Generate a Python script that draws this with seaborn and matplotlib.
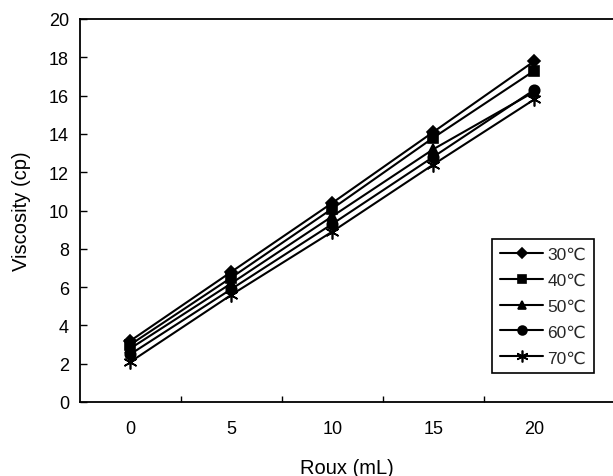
import matplotlib
matplotlib.use("Agg")
import matplotlib.pyplot as plt
import seaborn as sns
import pandas as pd

# Viscosity of roux suspensions at several temperatures
roux_ml = ["0", "5", "10", "15", "20"]
temps = ["30℃", "40℃", "50℃", "60℃", "70℃"]
visc_30 = [3.2, 6.8, 10.4, 14.1, 17.8]
visc_40 = [3.0, 6.5, 10.1, 13.8, 17.3]
visc_50 = [2.8, 6.2, 9.7, 13.2, 16.2]
visc_60 = [2.5, 5.9, 9.3, 12.8, 16.3]
visc_70 = [2.1, 5.6, 8.9, 12.4, 15.8]
y_ticks = [0, 2, 4, 6, 8, 10, 12, 14, 16, 18, 20]

series = [visc_30, visc_40, visc_50, visc_60, visc_70]
rows = []
for t, vals in zip(temps, series):
    for r, v in zip(roux_ml, vals):
        rows.append({"Roux": r, "Viscosity": v, "Temp": t})
df = pd.DataFrame(rows)

sns.set_theme(style="white")
plt.rcParams["font.family"] = ["Liberation Sans", "DejaVu Sans"]

fig = plt.figure(figsize=(6.13, 4.77), dpi=100)
ax = fig.add_axes([80 / 613, 74 / 477, 533 / 613, 383 / 477])

markers = ["D", "s", "^", "o", (6, 2, 0)]
sizes = [6, 6.5, 7, 7.5, 10]
for t, m, ms in zip(temps, markers, sizes):
    sns.lineplot(
        data=df[df["Temp"] == t], x="Roux", y="Viscosity",
        color="black", marker=m, markersize=ms, linewidth=1.5,
        markeredgecolor="black", markeredgewidth=1.2, label=t, ax=ax,
    )

ax.set_xlim(-0.5, 4.78)
ax.set_ylim(0, 20)
ax.set_yticks(y_ticks)
ax.set_xticks(range(len(roux_ml)))
ax.set_xticklabels(roux_ml)
ax.set_xticks([0.5, 1.5, 2.5, 3.5], minor=True)

ax.tick_params(axis="x", which="major", length=0, pad=13, labelsize=13, colors="black")
ax.tick_params(axis="x", which="minor", direction="in", length=4, width=1, bottom=True, color="black")
ax.tick_params(axis="y", direction="in", length=5, width=1, left=True, pad=8,
               labelsize=13, colors="black")

for side in ["left", "bottom", "top"]:
    ax.spines[side].set_visible(True)
    ax.spines[side].set_color("black")
    ax.spines[side].set_linewidth(1.3)
ax.spines["right"].set_visible(False)

ax.set_xlabel("Roux (mL)", fontsize=14.5, labelpad=15, color="black")
ax.set_ylabel("Viscosity (cp)", fontsize=14.5, labelpad=13, color="black")

leg = ax.legend(
    loc="upper left", bbox_to_anchor=(0.773, 0.426),
    frameon=True, fontsize=12.5, labelspacing=0.62, handlelength=2.5,
    handletextpad=0.25, borderpad=0.45, borderaxespad=0, fancybox=False,
    edgecolor="black", framealpha=1, markerscale=0.85,
)
leg.get_frame().set_linewidth(1.2)

fig.savefig("out.png", dpi=100, facecolor="white")
